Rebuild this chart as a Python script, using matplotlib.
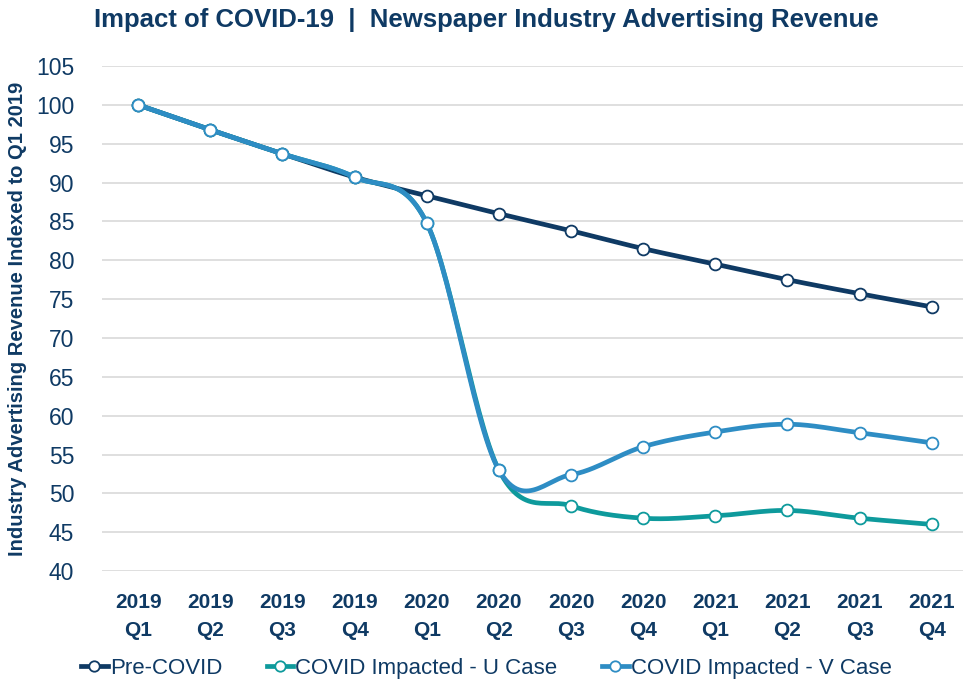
import numpy as np
import matplotlib
matplotlib.use("Agg")
import matplotlib.pyplot as plt
from matplotlib.lines import Line2D

plt.rcParams["font.family"] = ["Liberation Sans", "DejaVu Sans"]

# data
quarters = ["2019\nQ1", "2019\nQ2", "2019\nQ3", "2019\nQ4",
            "2020\nQ1", "2020\nQ2", "2020\nQ3", "2020\nQ4",
            "2021\nQ1", "2021\nQ2", "2021\nQ3", "2021\nQ4"]
pre_covid = [100, 96.8, 93.7, 90.7, 88.3, 86.0, 83.8, 81.5, 79.5, 77.5, 75.7, 74.0]
u_case = [100, 96.8, 93.7, 90.7, 84.8, 53.0, 48.4, 46.8, 47.1, 47.8, 46.8, 46.0]
v_case = [100, 96.8, 93.7, 90.7, 84.8, 53.0, 52.4, 56.0, 57.9, 58.9, 57.8, 56.5]

navy = "#0F3A64"
teal = "#0E9A9C"
blue = "#2E8DC4"


def smooth(x, y, n=30):
    # Excel-like smoothed line (Catmull-Rom / bezier)
    x = np.asarray(x, float)
    y = np.asarray(y, float)
    xs, ys = [], []
    for i in range(len(x) - 1):
        p0 = (x[max(i - 1, 0)], y[max(i - 1, 0)])
        p1 = (x[i], y[i])
        p2 = (x[i + 1], y[i + 1])
        p3 = (x[min(i + 2, len(x) - 1)], y[min(i + 2, len(x) - 1)])
        c1 = (p1[0] + (p2[0] - p0[0]) / 6, p1[1] + (p2[1] - p0[1]) / 6)
        c2 = (p2[0] - (p3[0] - p1[0]) / 6, p2[1] - (p3[1] - p1[1]) / 6)
        t = np.linspace(0, 1, n)
        for k in range(2):
            pts = [p1[k], c1[k], c2[k], p2[k]]
            v = ((1 - t) ** 3 * pts[0] + 3 * (1 - t) ** 2 * t * pts[1]
                 + 3 * (1 - t) * t ** 2 * pts[2] + t ** 3 * pts[3])
            (xs if k == 0 else ys).append(v)
    return np.concatenate(xs), np.concatenate(ys)


fig = plt.figure(figsize=(9.63, 6.88), dpi=100)
ax = fig.add_axes([0.106, 0.170, 0.899, 0.734])

x = np.arange(len(quarters))
for i, (vals, col) in enumerate([(pre_covid, navy), (u_case, teal), (v_case, blue)]):
    sx, sy = smooth(x, vals)
    ax.plot(sx, sy, color=col, lw=3.4, solid_capstyle="round", zorder=3 + 2 * i)
    ax.plot(x, vals, ls="none", marker="o", ms=8.5, mfc="white", mec=col,
            mew=1.3, zorder=4 + 2 * i)

ax.set_xlim(-0.5, 11.5)
ax.set_ylim(40, 105)
ax.set_yticks(range(40, 106, 5))
ax.set_xticks(x)
ax.set_xticklabels(quarters, fontsize=15, fontweight="bold", color=navy,
                   linespacing=1.55)
ax.tick_params(axis="y", labelsize=16.5, colors=navy, length=0, pad=20)
ax.tick_params(axis="x", length=0, pad=16)
ax.grid(axis="y", color="#D9D9D9", lw=1.2)
ax.set_axisbelow(True)
for s in ax.spines.values():
    s.set_visible(False)

ax.set_ylabel("Industry Advertising Revenue Indexed to Q1 2019", fontsize=14.5,
              fontweight="bold", color=navy)
ax.yaxis.set_label_coords(-0.087, 0.5)

fig.suptitle("Impact of COVID-19  |  Newspaper Industry Advertising Revenue",
             x=0.505, y=0.988, fontsize=18.5, fontweight="bold", color=navy)

handles = [Line2D([], [], color=c, lw=3.4, marker="o", ms=7.5, mfc="white",
                  mec=c, mew=1.3) for c in (navy, teal, blue)]
leg = fig.legend(handles, ["Pre-COVID", "COVID Impacted - U Case", "COVID Impacted - V Case"],
                 loc="lower center", bbox_to_anchor=(0.505, -0.016), ncol=3,
                 frameon=False, fontsize=16, handlelength=1.2, handletextpad=0.1,
                 columnspacing=2.0)
for t in leg.get_texts():
    t.set_color(navy)

fig.savefig("out.png", dpi=100)
